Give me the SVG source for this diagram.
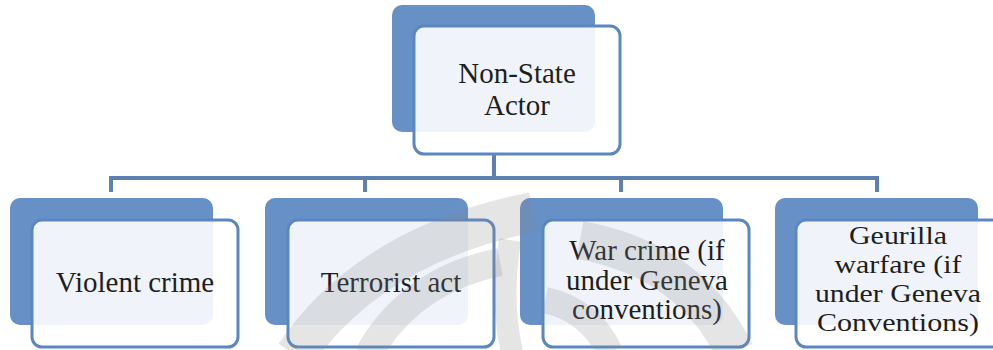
<svg xmlns="http://www.w3.org/2000/svg" width="993" height="350" viewBox="0 0 993 350">
  <style>
    .back { fill: #6690c6; }
    .front { fill: #ffffff; fill-opacity: 0.9; stroke: #5b87c0; stroke-width: 3; }
    .lbl { font-family: "Liberation Serif", serif; font-size: 29px; fill: #1e1e1e; text-anchor: middle; }
    .sm { font-size: 26px; }
    .conn { fill: none; stroke: #5d80b2; stroke-width: 4; }
    .wm { fill: none; stroke: #8a8a8a; stroke-opacity: 0.22; }
  </style>
  <rect width="993" height="350" fill="#ffffff"/>

  <g id="connectors">
    <path class="conn" d="M 494 155 V 178"/>
    <path class="conn" d="M 111 192 V 178 H 877 V 192"/>
    <path class="conn" d="M 365 178 V 192"/>
    <path class="conn" d="M 621 178 V 192"/>
  </g>

  <g id="node-nonstate">
    <rect class="back" x="392" y="5" width="203" height="127" rx="10"/>
    <rect class="front" x="414" y="26" width="206" height="128" rx="10"/>
    <text class="lbl" x="517" y="83">Non-State</text>
    <text class="lbl" x="517" y="115">Actor</text>
  </g>

  <g id="node-violent">
    <rect class="back" x="10" y="198" width="203" height="127" rx="10"/>
    <rect class="front" x="32" y="220" width="206" height="127" rx="10"/>
    <text class="lbl" x="135" y="292">Violent crime</text>
  </g>

  <g id="node-terrorist">
    <rect class="back" x="265" y="198" width="203" height="127" rx="10"/>
    <rect class="front" x="288" y="220" width="206" height="127" rx="10"/>
    <text class="lbl" x="391" y="292">Terrorist act</text>
  </g>

  <g id="node-warcrime">
    <rect class="back" x="520" y="198" width="203" height="127" rx="10"/>
    <rect class="front" x="543" y="220" width="206" height="127" rx="10"/>
    <text class="lbl" x="647" y="260">War crime (if</text>
    <text class="lbl" x="647" y="290">under Geneva</text>
    <text class="lbl" x="647" y="319">conventions)</text>
  </g>

  <g id="node-guerilla">
    <rect class="back" x="775" y="198" width="203" height="127" rx="10"/>
    <rect class="front" x="796" y="220" width="206" height="127" rx="10"/>
    <text class="lbl sm" x="898" y="244" textLength="98" lengthAdjust="spacingAndGlyphs">Geurilla</text>
    <text class="lbl sm" x="898" y="273" textLength="127" lengthAdjust="spacingAndGlyphs">warfare (if</text>
    <text class="lbl sm" x="898" y="302" textLength="166" lengthAdjust="spacingAndGlyphs">under Geneva</text>
    <text class="lbl sm" x="898" y="331" textLength="162" lengthAdjust="spacingAndGlyphs">Conventions)</text>
  </g>

  <g id="watermark">
    <path class="wm" stroke-width="40" d="M 295 355 Q 370 245 533 212"/>
    <path class="wm" stroke-width="28" d="M 368 355 Q 410 280 500 262"/>
    <path class="wm" stroke-width="22" d="M 510 240 Q 500 300 512 352"/>
    <path class="wm" stroke-width="38" d="M 580 240 Q 690 260 735 352"/>
    <path class="wm" stroke-width="26" d="M 545 300 Q 590 310 610 352"/>
  </g>
</svg>
